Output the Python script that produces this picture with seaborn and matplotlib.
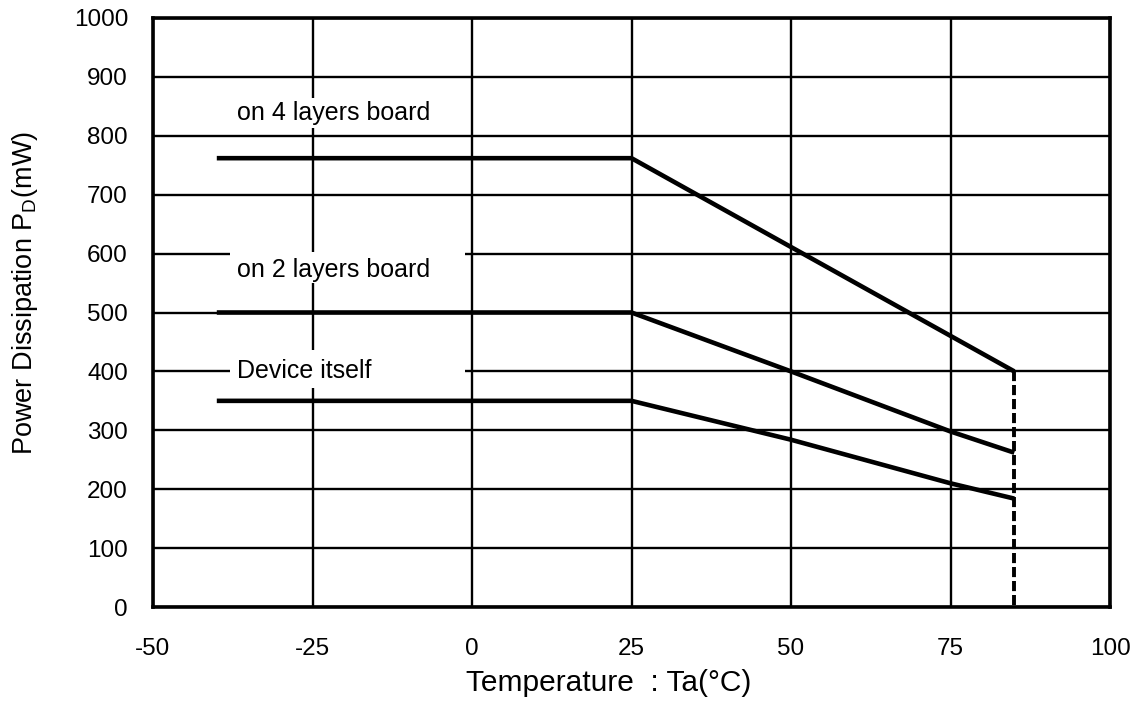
import matplotlib
matplotlib.use("Agg")
import matplotlib.pyplot as plt
import seaborn as sns
import pandas as pd
from matplotlib.patches import Rectangle

# ---- data ----
temp_4layer = [-40, 25, 85]
pd_4layer = [762, 762, 400]

temp_2layer = [-40, 25, 50, 75, 85]
pd_2layer = [500, 500, 400, 298, 262]

temp_device = [-40, 25, 50, 75, 85]
pd_device = [350, 350, 284, 210, 184]

limit_temp = [85, 85]
limit_pd = [400, 0]

x_ticks = [-50, -25, 0, 25, 50, 75, 100]
y_ticks = [0, 100, 200, 300, 400, 500, 600, 700, 800, 900, 1000]

labels = ["on 4 layers board", "on 2 layers board", "Device itself"]
label_y = [839, 572, 400]

sns.set_style("white")
plt.rcParams['font.family'] = ['Liberation Sans', 'DejaVu Sans']
plt.rcParams['mathtext.fontset'] = 'custom'
plt.rcParams['mathtext.rm'] = 'Liberation Sans'
plt.rcParams['mathtext.it'] = 'Liberation Sans:italic'
plt.rcParams['axes.unicode_minus'] = False

fig = plt.figure(figsize=(11.38, 7.01), dpi=100)
ax = fig.add_axes([153/1138, 94/701, (1110-153)/1138, (607-18)/701])

df4 = pd.DataFrame({"T": temp_4layer, "P": pd_4layer})
df2 = pd.DataFrame({"T": temp_2layer, "P": pd_2layer})
dfd = pd.DataFrame({"T": temp_device, "P": pd_device})
dfl = pd.DataFrame({"T": limit_temp, "P": limit_pd})

for d in (df4, df2, dfd):
    sns.lineplot(data=d, x="T", y="P", ax=ax, color="black", linewidth=3.3,
                 sort=False, estimator=None, zorder=5, solid_capstyle='butt')
sns.lineplot(data=dfl, x="T", y="P", ax=ax, color="black", linewidth=2.8,
             sort=False, estimator=None, zorder=5)
ax.lines[-1].set_dashes([2.6, 1.0])

ax.set_xlim(-50, 100)
ax.set_ylim(0, 1000)
ax.set_xticks(x_ticks)
ax.set_yticks(y_ticks)
ax.tick_params(axis='both', length=0, labelsize=17.5, colors='black')
ax.tick_params(axis='x', pad=22)
ax.tick_params(axis='y', pad=18)
ax.grid(True, color='black', linewidth=1.7, zorder=1)
ax.set_axisbelow(True)
for s in ax.spines.values():
    s.set_color('black')
    s.set_linewidth(2.6)
    s.set_zorder(6)

# white label boxes (cover grid lines)
box_rows = [(813, 864), (550, 603), (372, 436)]
for (y0, y1), txt, ty in zip(box_rows, labels, label_y):
    ax.add_patch(Rectangle((-37.9, y0), 36.8, y1 - y0, facecolor='white',
                           edgecolor='none', zorder=3))
    ax.text(-36.8, ty, txt, fontsize=18, va='center', ha='left', zorder=4,
            color='black')

ax.set_xlabel("Temperature  : Ta(°C)", fontsize=21.5, color='black')
ax.set_ylabel("Power Dissipation P$_{\\mathrm{D}}$(mW)", fontsize=19.5,
              color='black')
ax.xaxis.set_label_coords(0.4765, -0.106)
ax.yaxis.set_label_coords(-0.118, 0.533)

fig.savefig("out.png", dpi=100)
